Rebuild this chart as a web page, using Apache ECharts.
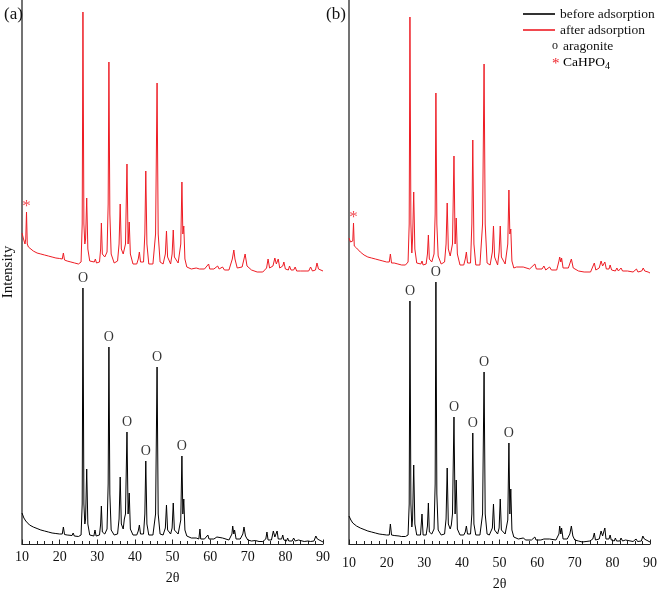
<!DOCTYPE html>
<html><head><meta charset="utf-8">
<script src="https://cdn.jsdelivr.net/npm/echarts@6/dist/echarts.min.js"></script>
<style>html,body{margin:0;padding:0;background:#fff}#c{width:661px;height:591px}</style>
</head><body><div id="c"></div>
<script>
const FONT = '"Liberation Serif","Times New Roman",serif';
const xTicks = [10, 20, 30, 40, 50, 60, 70, 80, 90];
const aragonitePeaks = [26.2, 33.1, 37.9, 42.9, 45.9, 52.5];
const cahpo4Peak = 11.2;

const beforeA = [[10,31],[10.5,26],[11,23],[12,19],[13,17],[14,15.5],[15,14],[16,13],[17,12],[18,11],[19,10.5],[20,10],[20.7,10],[21,17],[21.3,9.5],[22,9],[23.3,8.5],[23.6,11],[23.9,8],[25,7.5],[25.7,9],[26,40],[26.2,256],[26.45,40],[26.7,20],[26.9,25],[27.2,75],[27.5,20],[28,9],[29.1,8],[29.4,14],[29.7,8],[30.6,9],[30.9,20],[31.1,38],[31.35,12],[32.0,10],[32.6,15],[32.9,60],[33.1,197],[33.35,50],[33.7,14],[34.5,9],[35.4,10],[35.8,25],[36.1,67],[36.4,20],[36.9,15],[37.2,25],[37.5,30],[37.9,112],[38.2,30],[38.5,51],[38.8,15],[39.5,9],[40.5,9],[40.9,13],[41.2,19],[41.5,10],[42.3,10],[42.65,30],[42.9,83],[43.2,20],[43.7,9],[44.8,9],[45.5,30],[45.9,177],[46.2,30],[46.7,10],[47.5,9],[48.1,16],[48.4,39],[48.7,14],[49.5,10],[49.9,16],[50.2,41],[50.5,14],[51.5,10],[52.2,24],[52.5,88],[52.75,30],[53.0,45],[53.3,14],[53.8,8],[54.3,9],[55,6],[56.3,6],[56.6,7],[57,5],[57.3,15],[57.5,5],[58.5,5],[59.4,9],[59.7,5],[61,5],[61.8,7],[62.2,5],[63.3,6],[63.8,4],[65,4],[65.8,10],[66.0,18],[66.3,10],[66.5,14],[66.9,5],[68,5],[68.7,10],[69.0,17],[69.4,8],[70,4],[71,3],[72,3.5],[73,2.5],[74,2.5],[74.8,5],[75.1,12],[75.4,4],[76.3,4],[76.8,13],[77.2,7],[77.8,13],[78.1,5],[79.0,5],[79.3,9],[79.6,4],[80.3,3],[80.6,6],[80.9,3],[81.8,3],[82.2,6],[82.6,3],[83.5,4],[84,2.5],[85,2.5],[86.0,3],[86.3,5],[86.7,2.5],[87.6,3],[88.1,8],[88.5,5],[89,3],[90,2]];

const afterA = [[10,311],[10.4,305],[10.8,300],[11.0,305],[11.2,332],[11.4,300],[11.7,297],[12,296],[13,293],[14,291],[15,290],[16,289],[17,288],[18,287],[19,286],[20,285.5],[20.7,285],[21,291],[21.3,284],[22,283],[23,282],[24,281],[25,280],[25.7,282],[26,320],[26.2,532],[26.45,320],[26.7,300],[26.9,305],[27.2,346],[27.5,295],[28,283],[29.2,282],[29.5,285],[29.8,281],[30.6,282],[30.9,295],[31.1,321],[31.35,290],[32,287],[32.6,292],[32.9,340],[33.1,482],[33.35,330],[33.7,290],[34.5,281],[35.4,283],[35.8,300],[36.1,340],[36.4,295],[36.9,290],[37.2,291],[37.5,300],[37.9,380],[38.2,300],[38.5,322],[38.8,290],[39.5,280],[40.5,280],[40.9,285],[41.2,292],[41.5,282],[42.3,282],[42.65,310],[42.9,373],[43.2,300],[43.7,280],[44.8,280],[45.5,310],[45.9,461],[46.2,310],[46.7,282],[47.5,280],[48.1,290],[48.4,313],[48.7,287],[49.5,280],[49.9,290],[50.2,314],[50.5,287],[51.5,281],[52.2,300],[52.5,362],[52.75,310],[53.0,318],[53.3,285],[53.8,277],[54.3,278],[55,275],[56.3,276],[56.7,278],[57.2,275],[58.5,275],[59.6,280],[59.9,275],[61,275],[62.0,278],[62.4,275],[63.3,277],[63.8,274],[65,274],[65.9,285],[66.3,294],[66.6,285],[67.2,276],[68.5,277],[69.0,285],[69.3,290],[69.8,278],[71,274],[72.5,272],[74,272],[75.0,276],[75.4,285],[75.8,276],[76.7,278],[77.2,286],[77.6,280],[78.1,285],[78.5,276],[79.3,278],[79.6,282],[80,275],[80.8,274],[81.1,278],[81.5,274],[82.2,274],[82.6,277],[83,273],[84,273],[85.5,273],[86.2,273],[86.7,277],[87.2,273],[88.0,274],[88.4,281],[88.8,275],[89.3,273],[90,273]];

const beforeB = [[10,28],[10.5,24],[11,21],[12,18],[13,16],[14,14.5],[15,13],[16,12],[17,11],[18,10],[19,9.5],[20,9],[20.7,9],[21,20],[21.3,9],[22,8.5],[23.3,8],[23.6,10],[23.9,7.5],[25,7.5],[25.7,9],[26,40],[26.2,243],[26.45,40],[26.7,17],[26.9,25],[27.2,79],[27.5,20],[28,9],[29.0,9],[29.4,30],[29.7,9],[30.5,9],[30.85,18],[31.1,41],[31.35,12],[32,10],[32.6,15],[32.9,60],[33.1,262],[33.35,50],[33.7,14],[34.5,9],[35.4,10],[35.8,25],[36.1,76],[36.4,20],[36.9,15],[37.2,19],[37.5,30],[37.9,127],[38.2,30],[38.5,64],[38.8,15],[39.5,9],[40.5,9],[40.9,12],[41.2,18],[41.5,10],[42.3,10],[42.65,30],[42.9,111],[43.2,20],[43.7,9],[44.8,9],[45.5,30],[45.9,172],[46.2,30],[46.7,10],[47.3,9],[47.5,11],[47.7,9],[48.1,16],[48.4,40],[48.7,14],[49.5,10],[49.9,16],[50.2,45],[50.5,14],[51.5,10],[52.2,24],[52.5,101],[52.75,30],[53.0,55],[53.3,14],[53.8,7],[55,5],[56.3,6],[57,4],[58.5,4],[59.4,7],[59.7,4],[61,4],[61.8,5],[62.2,4],[63.3,5],[63.8,4],[65,4],[65.8,10],[66.0,18],[66.3,10],[66.5,16],[66.9,5],[68,5],[68.7,10],[69.1,18],[69.5,8],[70,4],[71,3],[72,2],[73,2.5],[74,3],[74.8,5],[75.2,11],[75.5,4],[76.5,5],[77.0,13],[77.4,8],[78.0,16],[78.3,5],[79.1,5],[79.4,9],[79.7,4],[80.5,3],[80.8,6],[81.1,3],[82,3],[82.3,6],[82.7,3],[83.5,4],[84,2.5],[85.5,2.5],[86.3,5],[86.7,2.5],[87.7,3],[88.1,8],[88.5,5],[89,3],[90,2]];

const afterB = [[10,306],[10.4,302],[10.8,300],[11.0,303],[11.2,321],[11.4,298],[11.7,297],[12,296],[13,292],[14,289],[15,287],[16,286],[17,285],[18,284],[19,283],[20,282],[20.7,282],[21,290],[21.3,281],[22,281],[23,280],[24,279],[24.5,281],[25,279],[25.7,282],[26,320],[26.2,527],[26.45,320],[26.7,291],[26.9,305],[27.2,352],[27.5,295],[28,281],[29.1,280],[29.4,283],[29.7,279],[30.5,280],[30.85,290],[31.1,309],[31.35,285],[32,282],[32.6,290],[32.9,330],[33.1,451],[33.35,320],[33.7,288],[34.5,280],[35.4,282],[35.8,300],[36.1,341],[36.4,295],[36.9,288],[37.2,290],[37.5,300],[37.9,388],[38.2,300],[38.5,326],[38.8,290],[39.5,279],[40.5,279],[40.9,285],[41.2,292],[41.5,281],[42.3,281],[42.65,320],[42.9,404],[43.2,300],[43.7,279],[44.8,279],[45.5,320],[45.9,480],[46.2,320],[46.7,281],[47.5,279],[48.1,292],[48.4,318],[48.7,287],[49.5,279],[49.9,292],[50.2,318],[50.5,287],[51.5,280],[52.2,300],[52.5,354],[52.75,310],[53.0,315],[53.3,283],[53.8,276],[54.5,277],[55,275],[56.3,277],[56.7,275],[58,275],[59.4,280],[59.8,275],[61.3,275],[61.8,278],[62.3,274],[63.3,277],[63.8,274],[65.2,274],[65.8,283],[66.0,287],[66.3,282],[66.5,286],[66.9,276],[68.3,276],[69.1,285],[69.6,276],[71,273],[72.5,272],[74.2,272],[75.2,281],[75.6,274],[76.5,276],[77.0,283],[77.4,278],[78.0,282],[78.4,275],[79.1,275],[79.4,279],[79.8,274],[80.8,273],[81.2,276],[81.6,273],[82.3,276],[82.7,273],[84,273],[85.5,272],[86.4,275],[86.8,272],[87.8,273],[88.2,276],[88.6,273],[89.5,272],[90,271]];

function peakPts(data, xs) {
  return xs.map(x => data.find(p => p[0] === x));
}

const chart = echarts.init(document.getElementById('c'), null, {renderer: 'canvas'});

function xAxisCfg(gridIndex, gap, margin) {
  return {
    gridIndex, type: 'value', min: xTicks[0], max: xTicks[xTicks.length - 1], interval: 10,
    name: '2θ', nameLocation: 'middle', nameGap: gap,
    nameTextStyle: {fontFamily: FONT, fontSize: 14, color: '#111'},
    axisLine: {show: true, lineStyle: {color: '#222', width: 1.2}},
    axisTick: {show: true, inside: true, length: 4.5, lineStyle: {color: '#222'}},
    minorTick: {show: true, splitNumber: 5, length: 3, lineStyle: {color: '#222'}},
    axisLabel: {fontFamily: FONT, fontSize: 14, color: '#111', margin},
    splitLine: {show: false}
  };
}
function yAxisCfg(gridIndex, name) {
  return {
    gridIndex, type: 'value', min: 0, max: 544,
    name: name, nameLocation: 'middle', nameGap: 6,
    nameTextStyle: {fontFamily: FONT, fontSize: 15, color: '#111'},
    axisLine: {show: true, lineStyle: {color: '#444', width: 1.5}},
    axisTick: {show: false}, axisLabel: {show: false}, splitLine: {show: false}
  };
}
function lineSeries(name, data, color, idx) {
  return {name, type: 'line', xAxisIndex: idx, yAxisIndex: idx, data, symbol: 'none', showSymbol: false,
    lineStyle: {color, width: 1}, itemStyle: {color}, animation: false, z: 3};
}
function aragoniteSeries(data, idx) {
  return {name: 'aragonite', type: 'scatter', xAxisIndex: idx, yAxisIndex: idx,
    data: peakPts(data, aragonitePeaks), symbolSize: 1, itemStyle: {color: 'rgba(0,0,0,0)'},
    label: {show: true, position: 'top', distance: 2, formatter: 'O', fontFamily: FONT, fontSize: 14, color: '#000'},
    animation: false, silent: true};
}
function starSeries(data, idx) {
  return {name: 'CaHPO4', type: 'scatter', xAxisIndex: idx, yAxisIndex: idx,
    data: peakPts(data, [cahpo4Peak]), symbolSize: 1, itemStyle: {color: 'rgba(0,0,0,0)'},
    label: {show: true, position: 'top', distance: -4, formatter: '*', fontFamily: FONT, fontSize: 17, color: '#ee1c24'},
    animation: false, silent: true};
}

const RED = '#ee1c24';
chart.setOption({
  backgroundColor: '#fff',
  animation: false,
  title: [
    {text: '(a)', left: -1, top: 1, textStyle: {fontFamily: FONT, fontSize: 17, fontWeight: 'normal', color: '#111'}},
    {text: '(b)', left: 321, top: 1, textStyle: {fontFamily: FONT, fontSize: 17, fontWeight: 'normal', color: '#111'}}
  ],
  grid: [
    {left: 22, top: 0, width: 301, height: 544, containLabel: false, outerBoundsMode: 'none'},
    {left: 349, top: 0, width: 301, height: 544, containLabel: false, outerBoundsMode: 'none'}
  ],
  xAxis: [xAxisCfg(0, 27, 6), xAxisCfg(1, 33, 12)],
  yAxis: [yAxisCfg(0, 'Intensity'), yAxisCfg(1, '')],
  legend: {
    data: ['before adsorption', 'after adsorption'],
    orient: 'vertical', left: 523, top: 7, padding: 0, icon: 'rect',
    itemWidth: 32, itemHeight: 1.6, itemGap: 2,
    textStyle: {fontFamily: FONT, fontSize: 13.5, color: '#111', padding: [0, 0, 0, 0]}, selectedMode: false
  },
  graphic: [
    {type: 'text', left: 552, top: 40, style: {text: 'o', font: '12px ' + FONT, fill: '#111'}},
    {type: 'text', left: 563, top: 39, style: {text: 'aragonite', font: '13.5px ' + FONT, fill: '#111'}},
    {type: 'text', left: 552, top: 57, style: {text: '*', font: '15px ' + FONT, fill: RED}},
    {type: 'text', left: 563, top: 55, style: {text: '{a|CaHPO}{s|4}', rich: {a: {fontFamily: FONT, fontSize: 13.5, color: '#111'}, s: {fontFamily: FONT, fontSize: 10, color: '#111', verticalAlign: 'bottom', padding: [9, 0, 0, 0]}}}}
  ],
  series: [
    lineSeries('before adsorption', beforeA, '#000', 0),
    lineSeries('after adsorption', afterA, RED, 0),
    lineSeries('before adsorption', beforeB, '#000', 1),
    lineSeries('after adsorption', afterB, RED, 1),
    aragoniteSeries(beforeA, 0), aragoniteSeries(beforeB, 1),
    starSeries(afterA, 0), starSeries(afterB, 1)
  ]
});
</script></body></html>
